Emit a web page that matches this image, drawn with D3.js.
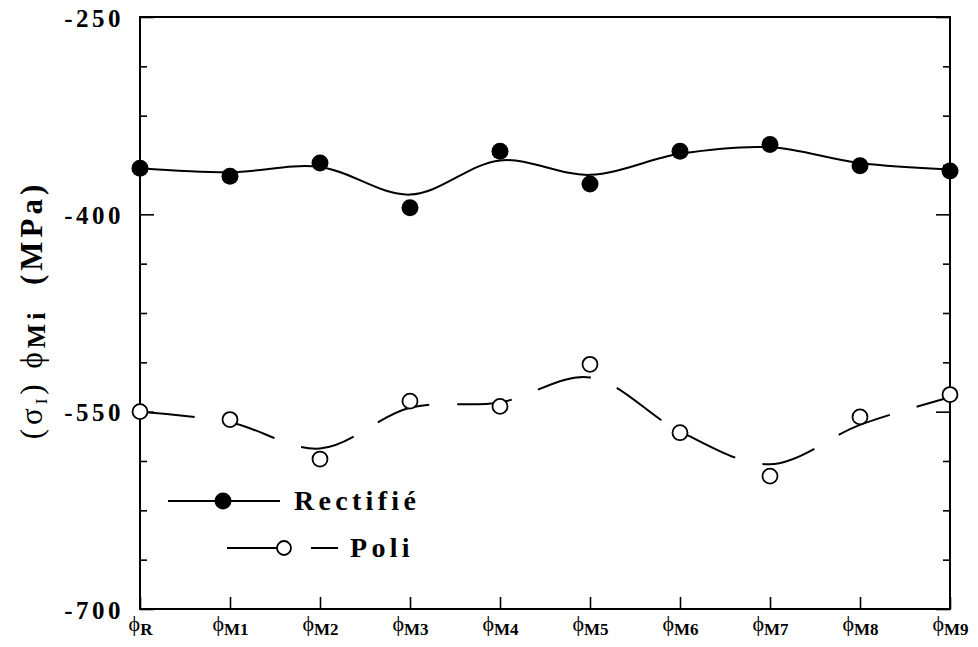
<!DOCTYPE html>
<html><head><meta charset="utf-8">
<script src="https://cdn.jsdelivr.net/npm/d3@7"></script>
<style>
html,body{margin:0;padding:0;background:#fff;}
svg{display:block;}
text{font-family:"Liberation Serif","Times New Roman",serif;fill:#000;}
</style></head>
<body><svg id="c" width="978" height="647"></svg>
<script>
// ---- data ----
const categories = ["R","M1","M2","M3","M4","M5","M6","M7","M8","M9"];
const rectifie = [-365, -371, -361, -395, -352, -377, -352, -347, -363, -367];
const rectifieFit = [-365, -368, -364, -385, -359, -370, -354, -349, -361, -366];
const poli = [-550, -556, -586, -542, -546, -514, -566, -599, -554, -537];
const poliFit = [-550, -558, -578, -547, -543, -524, -565, -590, -560, -539];
const yMajorTicks = [-700, -550, -400, -250];
const yMinorTicks = [-662.5, -625, -587.5, -512.5, -475, -437.5, -362.5, -325, -287.5];
const seriesNames = ["Rectifié", "Poli"];

// ---- layout ----
const L = 140, R = 950, T = 17, B = 609;
const svg = d3.select("#c");
const x = d3.scalePoint().domain(categories).range([L, R]);
const y = d3.scaleLinear().domain([-700, -250]).range([B, T]);

const axisStyle = g => {
  g.select(".domain").remove();
  g.selectAll(".tick line").attr("stroke", "#000").attr("stroke-width", 1.6);
};

// frame
svg.append("rect").attr("x", L).attr("y", T).attr("width", R - L).attr("height", B - T)
  .attr("fill", "none").attr("stroke", "#000").attr("stroke-width", 2);

// left axis major
const gl = svg.append("g").attr("transform", `translate(${L},0)`)
  .call(d3.axisLeft(y).tickValues(yMajorTicks).tickSize(-14).tickPadding(0).tickFormat(d => String(d)));
axisStyle(gl);
gl.selectAll(".tick text").attr("x", -16).attr("dy", "0.36em")
  .attr("font-size", 25).attr("font-weight", "bold").attr("letter-spacing", 3.5)
  .attr("text-anchor", "end").attr("font-family", "Liberation Serif");
// left minor
const glm = svg.append("g").attr("transform", `translate(${L},0)`)
  .call(d3.axisLeft(y).tickValues(yMinorTicks).tickSize(-7).tickFormat(""));
axisStyle(glm);
// right axis
const gr = svg.append("g").attr("transform", `translate(${R},0)`)
  .call(d3.axisRight(y).tickValues(yMajorTicks).tickSize(-14).tickFormat(""));
axisStyle(gr);
const grm = svg.append("g").attr("transform", `translate(${R},0)`)
  .call(d3.axisRight(y).tickValues(yMinorTicks).tickSize(-7).tickFormat(""));
axisStyle(grm);

// bottom axis
const gb = svg.append("g").attr("transform", `translate(0,${B})`)
  .call(d3.axisBottom(x).tickSize(-12).tickFormat(""));
axisStyle(gb);
gb.selectAll(".tick").each(function(d) {
  const t = d3.select(this).append("text").attr("y", 22).attr("text-anchor", "middle");
  t.append("tspan").attr("font-size", 22).text("ϕ");
  t.append("tspan").attr("font-size", 17).attr("font-weight", "bold").attr("dy", 4).text(d);
});

// curves
const line = d3.line().x((d, i) => x(categories[i])).y(d => y(d)).curve(d3.curveCatmullRom.alpha(0.5));
svg.append("path").datum(rectifieFit).attr("d", line)
  .attr("fill", "none").attr("stroke", "#000").attr("stroke-width", 2);
svg.append("path").datum(poliFit).attr("d", line)
  .attr("fill", "none").attr("stroke", "#000").attr("stroke-width", 2)
  .attr("stroke-dasharray", "55,28");

// points
svg.append("g").selectAll("circle").data(rectifie).join("circle")
  .attr("cx", (d, i) => x(categories[i])).attr("cy", d => y(d)).attr("r", 8.5).attr("fill", "#000");
svg.append("g").selectAll("circle").data(poli).join("circle")
  .attr("cx", (d, i) => x(categories[i])).attr("cy", d => y(d)).attr("r", 7.5)
  .attr("fill", "#fff").attr("stroke", "#000").attr("stroke-width", 1.8);

// legend
const lg = svg.append("g");
lg.append("line").attr("x1", 168).attr("x2", 280).attr("y1", 501).attr("y2", 501).attr("stroke", "#000").attr("stroke-width", 2);
lg.append("circle").attr("cx", 223).attr("cy", 501).attr("r", 8.5).attr("fill", "#000");
lg.append("text").attr("x", 294).attr("y", 510).attr("font-size", 28).attr("font-weight", "bold")
  .attr("letter-spacing", 4.3).text(seriesNames[0]);
lg.append("line").attr("x1", 227).attr("x2", 277).attr("y1", 548).attr("y2", 548).attr("stroke", "#000").attr("stroke-width", 2);
lg.append("circle").attr("cx", 284).attr("cy", 548).attr("r", 7).attr("fill", "#fff").attr("stroke", "#000").attr("stroke-width", 1.8);
lg.append("line").attr("x1", 311).attr("x2", 338).attr("y1", 548).attr("y2", 548).attr("stroke", "#000").attr("stroke-width", 2);
lg.append("text").attr("x", 350).attr("y", 557).attr("font-size", 28).attr("font-weight", "bold")
  .attr("letter-spacing", 4.3).text(seriesNames[1]);

// y title
const yt = svg.append("text").attr("transform", "translate(42,310) rotate(-90)")
  .attr("text-anchor", "middle").attr("font-size", 31).attr("letter-spacing", 4);
yt.append("tspan").text("(σ");
yt.append("tspan").attr("font-size", 17).attr("dy", 5).text("I");
yt.append("tspan").attr("dy", -5).text(") ϕ");
yt.append("tspan").attr("font-size", 26).attr("font-weight", "bold").attr("dy", 3).text("Mi");
yt.append("tspan").attr("dy", -3).attr("font-weight", "bold").text("\u00a0\u00a0(MPa)");
</script></body></html>
